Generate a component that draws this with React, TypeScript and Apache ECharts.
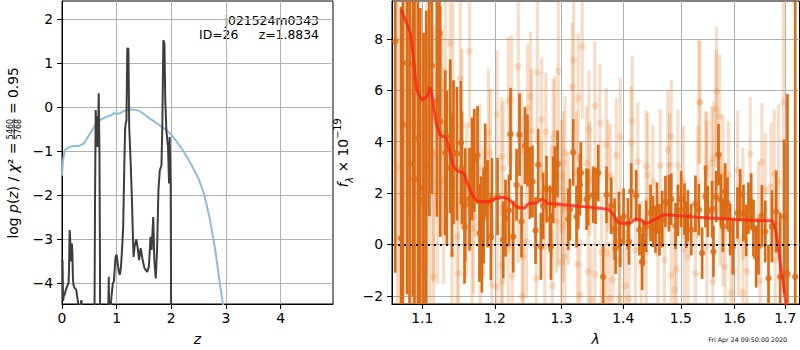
import React, { useEffect, useRef } from 'react';
import * as echarts from 'echarts';

const FONT = 'DejaVu Sans';

// ---------- left panel: redshift PDF ----------
const leftXTicks = [0, 1, 2, 3, 4];
const leftYTicks = [-4, -3, -2, -1, 0, 1, 2];
const LEFT_X_MIN = 0, LEFT_X_MAX = 4.96, LEFT_Y_MIN = -4.47, LEFT_Y_MAX = 2.42;

// chi2 curve (light blue)
const zChi = [0.0, 0.02, 0.05, 0.1, 0.2, 0.3, 0.4, 0.5, 0.6, 0.7, 0.8, 0.9, 0.95, 1.0, 1.05, 1.1, 1.2, 1.3, 1.4, 1.5, 1.6, 1.7, 1.8, 1.9, 2.0, 2.1, 2.2, 2.3, 2.4, 2.5, 2.6, 2.7, 2.8, 2.9, 2.95, 3.0];
const logChi = [-1.55, -1.2, -0.98, -0.92, -0.88, -0.88, -0.82, -0.62, -0.42, -0.28, -0.22, -0.18, -0.13, -0.14, -0.14, -0.1, -0.05, -0.05, -0.07, -0.15, -0.25, -0.33, -0.42, -0.5, -0.62, -0.78, -0.95, -1.15, -1.38, -1.62, -1.97, -2.5, -3.2, -4.1, -4.5, -5.3];

// log p(z) (dark)
const zPz = [0.0, 0.01, 0.02, 0.03, 0.05, 0.07, 0.1, 0.12, 0.13, 0.14, 0.15, 0.16, 0.17, 0.18, 0.19, 0.2, 0.21, 0.23, 0.26, 0.29, 0.31, 0.33, 0.355, 0.37, 0.4, 0.59, 0.605, 0.617, 0.625, 0.635, 0.645, 0.655, 0.665, 0.672, 0.68, 0.685, 0.695, 0.7, 0.83, 0.856, 0.875, 0.89, 0.905, 0.93, 0.95, 0.98, 1.0, 1.02, 1.04, 1.06, 1.08, 1.1, 1.12, 1.14, 1.155, 1.166, 1.18, 1.195, 1.215, 1.23, 1.255, 1.28, 1.3, 1.31, 1.33, 1.36, 1.39, 1.41, 1.44, 1.47, 1.51, 1.56, 1.59, 1.62, 1.64, 1.67, 1.69, 1.716, 1.74, 1.765, 1.79, 1.82, 1.835, 1.855, 1.875, 1.89, 1.91, 1.94, 1.96, 1.97, 1.99, 2.0, 2.1];
const logPz = [-3.45, -3.5, -4.4, -4.3, -4.25, -4.15, -4.05, -4.0, -3.6, -2.79, -3.0, -3.4, -3.5, -3.09, -3.3, -3.9, -4.04, -4.1, -4.15, -4.4, -4.6, -4.6, -4.38, -4.6, -6, -6, -2.0, -0.06, -0.5, -0.9, -0.2, -0.9, -0.3, 0.32, -0.5, -0.95, -3.5, -6, -6, -3.85, -6, -4.6, -4.3, -4.0, -3.95, -3.4, -3.35, -3.55, -3.74, -3.8, -3.62, -3.2, -2.71, -1.35, -0.5, -0.36, -0.3, 1.34, 1.34, -0.44, -1.2, -2.1, -3.02, -3.4, -3.15, -3.0, -3.24, -3.47, -3.2, -3.43, -3.66, -3.74, -3.62, -2.94, -3.24, -2.49, -3.47, -3.89, -3.24, -1.88, -1.43, -1.32, -0.52, 1.53, 1.45, 0.17, -0.52, -0.9, -1.73, -0.67, -1.8, -6, -6];

// ---------- right panel: spectrum ----------
const rightXTicks = [1.1, 1.2, 1.3, 1.4, 1.5, 1.6, 1.7];
const rightYTicks = [-2, 0, 2, 4, 6, 8];
const LAM_MIN = 1.0608, LAM_MAX = 1.7294, F_MIN = -2.32, F_MAX = 9.47;

const darkLam = [
  1.065, 1.0723, 1.0748, 1.080, 1.0834, 1.0878, 1.0898, 1.0943, 1.0974, 1.1017,
  1.1053, 1.1093, 1.1128, 1.1195, 1.1229, 1.124, 1.1308, 1.133, 1.1376, 1.1399,
  1.142, 1.1467, 1.1522, 1.1536, 1.1572, 1.1582, 1.1642, 1.1676, 1.1708, 1.1754,
  1.1782, 1.1802, 1.1816, 1.1839, 1.1863, 1.1896, 1.1944, 1.1959, 1.2039,
  1.2122, 1.2155, 1.2205, 1.2228, 1.2268, 1.2317, 1.2361, 1.2391, 1.2441, 1.248,
  1.2516, 1.2555, 1.2601, 1.2641, 1.2682, 1.2717, 1.2768, 1.282, 1.2836, 1.2871,
  1.2897, 1.2938, 1.3105, 1.3131, 1.3183, 1.3236, 1.3263, 1.329, 1.3306, 1.3396,
  1.3423, 1.3503, 1.3541, 1.3585, 1.3666, 1.3721,
  1.3799, 1.3854, 1.3871, 1.3928, 1.3948, 1.4004, 1.4078, 1.4095, 1.4133, 1.4218,
  1.4274, 1.432, 1.4342, 1.4389, 1.4464, 1.4506, 1.4551, 1.4576, 1.4621, 1.4669,
  1.4726, 1.4787, 1.4828, 1.4905, 1.4948, 1.5006, 1.5066, 1.5096, 1.5127, 1.5187,
  1.5265, 1.5327, 1.5388, 1.5449, 1.5493, 1.5574, 1.5598,
  1.5649, 1.5693, 1.5738, 1.5776, 1.5819, 1.5863, 1.5914, 1.5966, 1.6054, 1.6106,
  1.617, 1.6222, 1.6267, 1.632, 1.6365, 1.6418, 1.6463, 1.6531, 1.6597, 1.6663,
  1.6731, 1.6817, 1.6898, 1.6979, 1.7046, 1.7205,
];
const darkFlux = [
  7.9, 0.25, 4.66, 7.06, 3.14, 7.0, 2.55, 4.14, 2.2, 1.73,
  3.1, 6.09, 6.96, 5.57, 8.23, 4.79, 3.56, 2.97, 4.2, 2.32,
  3.58, 3.53, 3.95, 2.97, 0.67, 1.54, 1.76, 2.93, 3.27, 3.48,
  0.44, 0.85, -0.08, 1.06, 2.9, 1.58, 0.3, 1.76, 1.86,
  0.18, 1.02, 1.32, 4.29, 0.3, 2.32, 4.27, 0.89, 3.84, 3.66,
  2.39, 2.45, 0.54, 3.1, -0.08, 1.5, 2.15, 0.99, -0.08, 2.12,
  2.62, 3.13, 0.98, 1.35, 3.58, 1.08, 1.8, 2.32, 2.78, 1.76,
  1.84, 1.93, 1.89, 2.78, -1.26, 1.93,
  1.5, 0.59, -0.15, 0.95, 0.11, 1.08, 0.8, 0.11, 2.06, 1.89,
  0.57, -0.67, 0.05, 0.7, 1.22, 0.89, 0.57, 1.41, 0.57, 0.98,
  1.67, 1.6, 1.76, 0.72, 1.32, 1.76, 1.37, 0.76, 1.11, 0.57,
  1.58, 1.35, -0.34, 1.86, 1.28, 1.37, -0.28,
  1.86, 3.49, 1.73, 0.7, 2.06, 1.6, 0.57, -0.08, 1.22, 1.93,
  1.22, 0.54, 1.41, 1.67, 0.63, -0.48, -0.08, 1.11, 0.5, -1.32,
  0.7, 1.28, -1.26, 1.08, -1.15, -1.26,
];
const darkErr = [
  9, 9, 9, 9, 9, 9, 9, 7, 7, 6.5,
  6, 5, 5, 4.5, 4, 4.5, 3.2, 3, 3, 2.8,
  2.8, 2.6, 2.4, 2.2, 2.2, 2.2, 2, 2, 2, 1.9,
  1.9, 1.8, 1.8, 1.8, 1.8, 1.7, 1.7, 1.6, 1.5,
  1.5, 1.5, 1.4, 1.8, 1.4, 1.4, 1.6, 1.4, 1.5, 1.4,
  1.4, 1.4, 1.3, 1.4, 1.3, 1.3, 1.3, 1.3, 1.3, 1.3,
  1.2, 1.3, 1.2, 1.2, 1.3, 1.2, 1.2, 1.2, 1.2, 1.2,
  1.1, 1.1, 1.1, 1.1, 1.2, 1.1,
  1.1, 1.2, 1.0, 1.1, 1.0, 1.1, 1.0, 0.9, 1.1, 1.0,
  1.0, 1.1, 0.9, 1.0, 1.1, 1.0, 0.9, 1.0, 1.0, 1.1,
  1.0, 1.1, 1.0, 0.9, 1.0, 1.1, 1.0, 0.9, 1.0, 1.0,
  1.1, 1.0, 1.0, 1.2, 1.0, 1.1, 1.0,
  1.0, 1.2, 1.0, 1.0, 1.1, 1.0, 1.0, 1.1, 1.0, 1.0,
  1.1, 1.0, 1.0, 1.1, 1.1, 1.2, 1.1, 1.2, 1.2, 1.3,
  1.4, 1.6, 2.5, 3, 7, 12,
];

const lightLam = [
  1.0822, 1.093, 1.0756, 1.1062, 1.1376, 1.1642, 1.1412, 1.1513, 1.1536, 1.1195,
  1.1263, 1.1053, 1.1106, 1.1205, 1.1017, 1.0886, 1.115, 1.0974, 1.1399, 1.149,
  1.1467, 1.1792, 1.1959, 1.2031, 1.1839, 1.1605, 1.1698, 1.1911, 1.2031, 1.1935,
  1.1782, 1.1722, 1.115, 1.1676, 1.1285, 1.1308, 1.0677, 1.0869,
  1.2342, 1.2627, 1.2949, 1.319, 1.3327, 1.3167, 1.3263, 1.3531, 1.2525, 1.2243,
  1.248, 1.2195, 1.3612, 1.3434, 1.254, 1.2759, 1.2897, 1.2871, 1.2692, 1.2098,
  1.2391, 1.3053, 1.3027, 1.3396, 1.3236, 1.345, 1.2122, 1.3001, 1.2692, 1.2845,
  1.2949, 1.3105, 1.2922, 1.3027, 1.2195, 1.2465, 1.2416, 1.2098, 1.2253, 1.2612,
  1.2107, 1.2856, 1.2401, 1.3053, 1.3001, 1.3252, 1.3423, 1.3531, 1.329, 1.3467,
  1.3638, 1.2743, 1.2342,
  1.415, 1.4133, 1.4247, 1.3948, 1.3882, 1.3782, 1.3716, 1.4389, 1.4418, 1.4506,
  1.4633, 1.4768, 1.4828, 1.4798, 1.4948, 1.5048, 1.5327, 1.5449, 1.5474, 1.5649,
  1.5309, 1.3716, 1.3826, 1.4037, 1.3937, 1.4095, 1.377, 1.4206, 1.4303, 1.4389,
  1.4709, 1.4828, 1.4918, 1.4887, 1.5127, 1.5265, 1.5066, 1.4593, 1.3937, 1.3744,
  1.5655, 1.5712, 1.5352, 1.5474, 1.5566, 1.5598, 1.5776, 1.5882, 1.6054, 1.6301,
  1.6531, 1.6777, 1.6864, 1.6711, 1.6965, 1.6159, 1.6463, 1.6597, 1.5776, 1.6073,
  1.5474, 1.5819, 1.5972, 1.6235, 1.6497, 1.5586, 1.6159, 1.5928, 1.6797, 1.5725,
];
const lightFlux = [
  9.08, 8.6, 8.3, 6.28, 7.84, 7.52, 6.28, 6.45, 4.59, 5.24,
  4.33, 3.81, 2.58, 2.45, -0.87, -1.32, -1.26, -1.0, -0.37, -1.12,
  0.3, -1.12, -1.58, -1.65, 1.28, 1.73, 1.08, 4.33, 5.05, 3.56,
  2.97, 2.78, 3.53, 0.63, 2.45, 6.74, 3.0, 1.5,
  6.93, 6.7, 6.74, 7.15, 7.69, 6.13, 5.7, 5.4, 5.76, 5.63,
  5.31, 5.57, 4.72, 4.46, 4.42, 4.39, 4.33, 4.14, 4.85, 3.42,
  3.62, 3.56, 3.19, 3.17, 2.78, 2.55, 2.97, 2.65, 2.0, 1.67,
  1.54, 1.41, 0.89, 0.72, -0.19, 0.11, -0.48, -0.8, -1.23, -1.32,
  -1.45, -1.62, -2.01, -0.48, -0.69, -0.77, -1.06, -1.15, -1.97, -2.16,
  -0.31, -0.09, 1.47,
  4.81, 3.95, 3.23, 4.2, 3.49, 2.67, 3.88, 3.03, 2.71, 2.45,
  3.07, 3.68, 4.2, 3.1, 3.06, 2.41, 5.54, 2.97, 2.71, 5.27,
  2.41, -0.34, -1.38, -1.62, -2.1, -2.1, -2.1, -0.21, -0.73, -0.28,
  -0.6, -1.19, -0.99, -1.77, -0.48, -1.12, -0.21, -0.34, -0.6, 2.67,
  5.96, 4.98, 5.53, 2.97, 3.17, 3.36, 2.84, 2.7, 2.9, 3.53,
  3.2, 2.75, 2.45, 2.23, 5.53, 1.58, 1.02, 2.12, 0.57, 0.18,
  -0.08, -0.87, -1.0, -1.06, -1.41, -1.45, -1.88, -1.88, -0.6, 1.35,
];
const lightErr = [
  8, 7, 8, 5, 3.5, 3, 3.5, 3, 3, 4,
  4, 5, 5, 4, 6, 7, 5, 6, 3, 3,
  3, 2.5, 2.5, 2.5, 2.5, 3, 3, 2.5, 2.5, 2.5,
  2.5, 2.5, 5, 3, 4, 4, 9, 8,
  3, 2.8, 2.8, 2.8, 2.8, 2.5, 2.5, 2.5, 2.5, 2.5,
  2.5, 2.5, 2.3, 2.3, 2.4, 2.3, 2.2, 2.3, 2.4, 2.3,
  2.3, 2.2, 2.0, 2.2, 2.4, 2.2, 2.6, 2.2, 2.0, 2.2,
  2.4, 2.2, 2.0, 2.2, 2.3, 2.2, 2.1, 2.4, 2.2, 2.2,
  2.3, 2.2, 2.0, 2.4, 2.2, 2.2, 2.0, 2.3, 2.2, 2.1,
  2.2, 2.4, 2.2,
  2.5, 2.2, 2.3, 2.3, 2.2, 2.0, 2.2, 2.2, 2.4, 2.2,
  2.2, 2.3, 2.2, 2.0, 2.2, 2.2, 2.4, 2.2, 2.1, 2.3,
  2.2, 2.2, 2.0, 2.2, 2.3, 2.2, 2.2, 2.2, 2.4, 2.1,
  2.2, 2.0, 2.2, 2.3, 2.2, 2.1, 2.2, 2.2, 2.2, 2.2,
  2.5, 2.4, 2.4, 2.2, 2.2, 2.2, 2.2, 2.1, 2.3, 2.2,
  2.3, 2.5, 3, 2.5, 5, 2.2, 2.2, 2.2, 2.2, 2.2,
  2.2, 2.2, 2.1, 2.2, 2.3, 2.2, 2.2, 2.0, 2.5, 2.2,
];

const modelLam = [
  1.0723, 1.0777, 1.0843, 1.0886, 1.093, 1.0996, 1.1062, 1.1106, 1.115, 1.1195,
  1.1263, 1.1308, 1.1353, 1.1421, 1.149, 1.156, 1.1629, 1.1698, 1.1768, 1.193,
  1.2025, 1.212, 1.2216, 1.2313, 1.2434, 1.2507, 1.2606, 1.2706, 1.2782, 1.2857,
  1.3035, 1.3732, 1.3815, 1.39, 1.3955, 1.4124, 1.421, 1.4296, 1.438, 1.4469,
  1.4585, 1.4701, 1.530, 1.5923, 1.6674, 1.674, 1.6841, 1.6909, 1.7011, 1.705,
];
const modelFlux = [
  9.14, 8.75, 8.23, 7.19, 6.02, 5.63, 5.76, 6.09, 5.37, 4.59,
  4.2, 4.2, 3.81, 3.03, 2.84, 2.77, 2.25, 1.86, 1.67, 1.67,
  1.8, 1.82, 1.73, 1.47, 1.41, 1.6, 1.6, 1.77, 1.6, 1.58,
  1.54, 1.37, 1.22, 0.89, 0.82, 0.85, 0.99, 0.95, 0.82, 0.89,
  1.02, 1.15, 1.06, 0.98, 0.92, 0.92, 0.18, -0.86, -2.28, -3.5,
];

const DARK = '#db6b14';
const LIGHT = 'rgba(228,118,36,0.26)';

const minus = (s: string) => s.replace('-', '\u2212');
const zip2 = (a: number[], b: number[]) => a.map((v, i) => [v, b[i]]);
const ln = (v: number) => Math.log(v);

const errRender = (color: string, width: number) => (params: any, api: any) => {
  const x = api.value(0);
  const y = api.value(1);
  const e = api.value(2);
  const lo = Math.max(y - e, F_MIN);
  const hi = Math.min(y + e, F_MAX);
  const p1 = api.coord([x, lo]);
  const p2 = api.coord([x, hi]);
  return {
    type: 'line',
    shape: { x1: p1[0], y1: p1[1], x2: p2[0], y2: p2[1] },
    style: { stroke: color, lineWidth: width },
  };
};

const axisLine = { show: true, onZero: false, lineStyle: { color: '#000', width: 1 } };
const tickStyle = { show: true, inside: false, length: 5, lineStyle: { color: '#000', width: 1 } };
const splitLine = { show: true, lineStyle: { color: '#b0b0b0', width: 1 } };
const labelBase = { color: '#000', fontSize: 13.9, fontFamily: FONT };

function buildOption(): any {
  return {
    animation: false,
    backgroundColor: '#fff',
    textStyle: { fontFamily: FONT },
    grid: [
      { left: 62, top: 1, width: 271, height: 303, show: true, borderColor: '#000', borderWidth: 1, backgroundColor: 'transparent' },
      { left: 392, top: 1, width: 407.5, height: 303, show: true, borderColor: '#000', borderWidth: 1, backgroundColor: 'transparent' },
    ],
    xAxis: [
      {
        type: 'value', gridIndex: 0, min: LEFT_X_MIN, max: LEFT_X_MAX,
        axisLine, splitLine,
        axisTick: { ...tickStyle, customValues: leftXTicks },
        axisLabel: { ...labelBase, margin: 7, customValues: leftXTicks, formatter: (v: number) => minus(String(v)) },
      },
      {
        type: 'value', gridIndex: 1, min: ln(LAM_MIN), max: ln(LAM_MAX),
        axisLine, splitLine,
        axisTick: { ...tickStyle, customValues: rightXTicks.map(ln) },
        axisLabel: { ...labelBase, margin: 7, customValues: rightXTicks.map(ln), formatter: (v: number) => Math.exp(v).toFixed(1) },
      },
    ],
    yAxis: [
      {
        type: 'value', gridIndex: 0, min: LEFT_Y_MIN, max: LEFT_Y_MAX,
        axisLine, splitLine,
        axisTick: { ...tickStyle, customValues: leftYTicks },
        axisLabel: { ...labelBase, margin: 9, customValues: leftYTicks, formatter: (v: number) => minus(String(v)) },
      },
      {
        type: 'value', gridIndex: 1, min: F_MIN, max: F_MAX,
        axisLine, splitLine,
        axisTick: { ...tickStyle, customValues: rightYTicks },
        axisLabel: { ...labelBase, margin: 9, customValues: rightYTicks, formatter: (v: number) => minus(String(v)) },
      },
    ],
    series: [
      {
        type: 'line', xAxisIndex: 0, yAxisIndex: 0, data: zip2(zChi, logChi),
        showSymbol: false, symbol: 'none', silent: true,
        lineStyle: { color: '#8fbcdb', width: 2 },
      },
      {
        type: 'line', xAxisIndex: 0, yAxisIndex: 0, data: zip2(zPz, logPz),
        showSymbol: false, symbol: 'none', silent: true,
        lineStyle: { color: '#3d3d3d', width: 2 },
      },
      {
        type: 'custom', xAxisIndex: 1, yAxisIndex: 1, silent: true,
        data: lightLam.map((l, i) => [ln(l), lightFlux[i], lightErr[i]]),
        encode: { x: 0, y: 1 },
        renderItem: errRender(LIGHT, 3.2),
      },
      {
        type: 'scatter', xAxisIndex: 1, yAxisIndex: 1, silent: true,
        data: lightLam.map((l, i) => [ln(l), lightFlux[i]]),
        symbolSize: 7, itemStyle: { color: LIGHT },
      },
      {
        type: 'custom', xAxisIndex: 1, yAxisIndex: 1, silent: true,
        data: darkLam.map((l, i) => [ln(l), darkFlux[i], darkErr[i]]),
        encode: { x: 0, y: 1 },
        renderItem: errRender(DARK, 2.7),
      },
      {
        type: 'scatter', xAxisIndex: 1, yAxisIndex: 1, silent: true,
        data: darkLam.map((l, i) => [ln(l), darkFlux[i]]),
        symbolSize: 6.5, itemStyle: { color: DARK },
      },
      {
        type: 'line', xAxisIndex: 1, yAxisIndex: 1, silent: true,
        data: modelLam.map((l, i) => [ln(l), modelFlux[i]]),
        showSymbol: false, symbol: 'none', smooth: 0.2,
        lineStyle: { color: 'rgba(255,35,20,0.8)', width: 3 },
        markLine: {
          silent: true, symbol: 'none', animation: false,
          label: { show: false },
          lineStyle: { color: '#000', type: [2, 4], width: 2 },
          data: [{ yAxis: 0 }],
        },
      },
    ],
    graphic: [
      { type: 'text', x: 319, y: 20.5, style: { text: 'j021524m0343', align: 'right', verticalAlign: 'middle', fontSize: 12.4, fontFamily: FONT, fill: '#000' } },
      { type: 'text', x: 199, y: 34.5, style: { text: 'ID=26', align: 'left', verticalAlign: 'middle', fontSize: 12.4, fontFamily: FONT, fill: '#000' } },
      { type: 'text', x: 319, y: 34.5, style: { text: 'z=1.8834', align: 'right', verticalAlign: 'middle', fontSize: 12.4, fontFamily: FONT, fill: '#000' } },
      { type: 'text', x: 197.5, y: 339, style: { text: 'z', align: 'center', verticalAlign: 'middle', fontSize: 13.9, fontStyle: 'italic', fontFamily: FONT, fill: '#000' } },
      { type: 'text', x: 595.5, y: 339, style: { text: 'λ', align: 'center', verticalAlign: 'middle', fontSize: 13.9, fontStyle: 'italic', fontFamily: FONT, fill: '#000' } },
      { type: 'text', x: 787, y: 339, style: { text: 'Fri Apr 24 09:50:00 2020', align: 'right', verticalAlign: 'middle', fontSize: 6.3, fontFamily: FONT, fill: '#000' } },
      {
        type: 'group', x: 13, y: 152.5, rotation: Math.PI / 2,
        children: [
          {
            type: 'text', x: -86, y: 0,
            style: {
              text: '{n|log }{i|p}{n|(}{i|z}{n|) / }{i|χ}{n|² =}',
              rich: {
                n: { fontSize: 13.9, fontFamily: FONT, fill: '#000' },
                i: { fontSize: 13.9, fontFamily: FONT, fontStyle: 'italic', fill: '#000' },
              },
              align: 'left', verticalAlign: 'middle',
            },
          },
          { type: 'text', x: 23.5, y: -2.8, style: { text: '5460', align: 'center', verticalAlign: 'middle', fontSize: 8, fontFamily: FONT, fill: '#000' } },
          { type: 'line', shape: { x1: 13, y1: 1, x2: 34, y2: 1 }, style: { stroke: '#000', lineWidth: 0.8 } },
          { type: 'text', x: 23.5, y: 5, style: { text: '5768', align: 'center', verticalAlign: 'middle', fontSize: 8, fontFamily: FONT, fill: '#000' } },
          { type: 'text', x: 34, y: 0, style: { text: ' = 0.95', align: 'left', verticalAlign: 'middle', fontSize: 13.9, fontFamily: FONT, fill: '#000' } },
        ],
      },
      {
        type: 'group', x: 343, y: 153, rotation: Math.PI / 2,
        children: [
          {
            type: 'text', x: 0, y: 0,
            style: {
              text: '{i|f}{sub|λ}{n| × 10}{sup|−19}',
              rich: {
                n: { fontSize: 13.9, fontFamily: FONT, fill: '#000', lineHeight: 22, verticalAlign: 'middle' },
                i: { fontSize: 13.9, fontFamily: FONT, fontStyle: 'italic', fill: '#000', lineHeight: 22, verticalAlign: 'middle' },
                sub: { fontSize: 9.7, fontFamily: FONT, fontStyle: 'italic', fill: '#000', lineHeight: 22, verticalAlign: 'bottom' },
                sup: { fontSize: 9.7, fontFamily: FONT, fill: '#000', lineHeight: 22, verticalAlign: 'top' },
              },
              align: 'center', verticalAlign: 'middle',
            },
          },
        ],
      },
    ],
  };
}

export default function App() {
  const ref = useRef<HTMLDivElement>(null);
  useEffect(() => {
    if (!ref.current) return;
    const chart = echarts.init(ref.current, null, { renderer: 'svg' });
    chart.setOption(buildOption());
    return () => chart.dispose();
  }, []);
  return (
    <div
      ref={ref}
      style={{ position: 'absolute', left: 0, top: 0, width: 800, height: 350, background: '#fff' }}
    />
  );
}
